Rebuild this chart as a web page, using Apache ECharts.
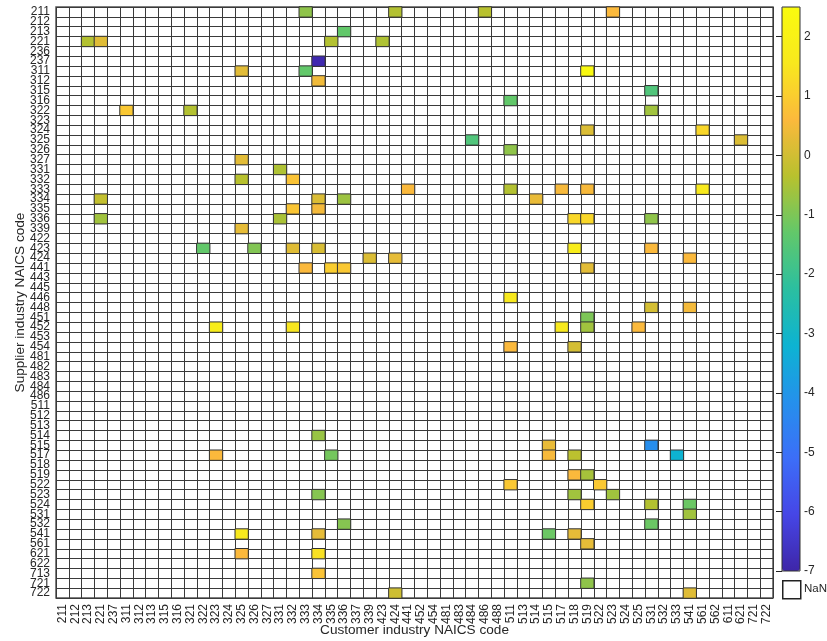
<!DOCTYPE html>
<html>
<head>
<meta charset="utf-8">
<script src="https://cdn.jsdelivr.net/npm/echarts@6/dist/echarts.min.js"></script>
<style>
html,body{margin:0;padding:0;background:#fff;}
#chart{width:827px;height:641px;}
</style>
</head>
<body>
<div id="chart"></div>
<script>
// ---- data ----
const customerCodes = ['211','212','213','221','237','311','312','313','315','316','321','322','323','324','325','326','327','331','332','333','334','335','336','337','339','423','424','441','452','454','481','483','484','486','488','511','513','514','515','517','518','519','522','523','524','525','531','532','533','541','561','562','611','621','721','722'];
const supplierCodes = ['211','212','213','221','236','237','311','312','315','316','322','323','324','325','326','327','331','332','333','334','335','336','339','422','423','424','441','443','445','446','448','451','452','453','454','481','482','483','484','486','511','512','513','514','515','517','518','519','522','523','524','531','532','541','561','621','622','713','721','722'];
// parallel arrays: supplier (row), customer (column), value
const cellSupplier = ['211','211','211','211','213','221','221','221','221','237','311','311','311','312','315','316','322','322','322','324','324','325','325','326','327','331','332','332','333','333','333','333','333','334','334','334','334','335','335','336','336','336','336','336','339','423','423','423','423','423','423','424','424','424','441','441','441','441','446','448','448','451','452','452','452','452','452','454','454','514','515','515','517','517','517','517','517','519','519','522','522','523','523','523','524','524','524','531','532','532','541','541','541','541','561','621','621','713','721','722','722'];
const cellCustomer = ['333','424','486','523','336','213','221','335','423','334','325','333','519','334','531','511','311','321','531','519','561','484','621','511','325','331','325','332','441','511','517','519','561','221','334','336','514','332','334','221','331','518','519','531','325','322','326','332','334','518','531','339','424','541','333','335','336','519','511','531','541','519','323','332','517','519','525','511','518','334','515','531','323','335','515','518','533','518','519','511','522','334','518','523','519','531','541','541','336','531','325','334','515','518','519','325','334','334','519','424','541'];
const cellValue = [-0.8,-0.4,-0.35,0.6,-1.3,-0.4,0.2,-0.4,-0.45,-6.9,0.25,-1.3,2.4,0.45,-1.6,-1.3,0.9,-0.4,-0.6,0.15,1.2,-1.6,0.15,-0.8,0.25,-0.45,-0.35,0.8,0.6,-0.4,0.55,0.55,1.6,-0.2,0.15,-0.65,0.35,0.85,0.5,-0.6,-0.5,1.2,1.2,-0.8,0.3,-1.3,-0.95,0.2,0.1,1.8,0.6,0.15,0.3,0.6,0.6,1.0,0.9,0.25,1.6,0.05,0.5,-1.0,1.8,1.5,1.6,-0.6,0.6,0.6,0.05,-0.7,0.35,-4.2,0.6,-1.1,0.55,-0.3,-3.2,0.6,-0.55,0.9,0.9,-0.9,-0.6,-0.6,1.0,-0.4,-1.2,-0.6,-0.9,-1.2,1.6,0.3,-1.2,0.3,0.3,0.6,1.4,0.8,-0.8,-0.05,0.2];
const colorMin = -7;
const colorMax = 2.5;
const parulaColors = ['#3e26a8','#4646e6','#3c6ef8','#2590ec','#0db3d2','#2bbfa0','#62c86a','#b8c12e','#fbb93c','#f8e81e','#f9fb0e'];

// ---- build ----
const heatData = cellValue.map((v, i) => [customerCodes.indexOf(cellCustomer[i]), supplierCodes.indexOf(cellSupplier[i]), v]);

const sans = "'Liberation Sans', Arial, Helvetica, sans-serif";
const txt = '#262626';
const gridLine = '#3a3a3a';

const chart = echarts.init(document.getElementById('chart'));
chart.setOption({
  animation: false,
  backgroundColor: '#fff',
  grid: [
    {left: 56, top: 7, width: 717, height: 591, show: true, borderColor: '#555', borderWidth: 1.5, backgroundColor: '#fff', outerBoundsMode: 'none', containLabel: false},
    {left: 782, top: 7, width: 18, height: 564, show: true, borderColor: '#333', borderWidth: 1, outerBoundsMode: 'none', containLabel: false, z: 10}
  ],
  xAxis: [
    {
      type: 'category', gridIndex: 0, data: customerCodes, position: 'bottom',
      name: 'Customer industry NAICS code', nameLocation: 'middle', nameGap: 25, nameMoveOverlap: false,
      nameTextStyle: {fontFamily: sans, fontSize: 13.6, color: txt},
      axisLine: {show: false}, axisTick: {show: false},
      axisLabel: {interval: 0, rotate: 90, margin: 6, fontFamily: sans, fontSize: 12, color: txt},
      splitLine: {show: true, interval: 0, lineStyle: {color: gridLine, width: 1}}
    },
    {type: 'value', gridIndex: 1, min: 0, max: 1, show: false}
  ],
  yAxis: [
    {
      type: 'category', gridIndex: 0, data: supplierCodes, inverse: true,
      name: 'Supplier industry NAICS code', nameLocation: 'middle', nameGap: 29, nameMoveOverlap: false,
      nameTextStyle: {fontFamily: sans, fontSize: 13.6, color: txt},
      axisLine: {show: false}, axisTick: {show: false},
      axisLabel: {interval: 0, margin: 6, fontFamily: sans, fontSize: 12, color: txt},
      splitLine: {show: true, interval: 0, lineStyle: {color: gridLine, width: 1}}
    },
    {
      type: 'value', gridIndex: 1, min: colorMin, max: colorMax, interval: 1, position: 'right',
      axisLine: {show: false},
      axisTick: {show: true, inside: true, length: 6, lineStyle: {color: '#222', width: 1}},
      axisLabel: {show: true, margin: 4, fontFamily: sans, fontSize: 12, color: txt, showMaxLabel: false},
      splitLine: {show: false}
    }
  ],
  visualMap: {
    type: 'continuous', min: colorMin, max: colorMax, dimension: 2, seriesIndex: 0,
    orient: 'vertical', left: 782, top: 7, itemWidth: 18, itemHeight: 564, padding: 0,
    calculable: false, realtime: false, hoverLink: false, showLabel: false, text: null,
    inRange: {color: parulaColors}
  },
  graphic: [
    {type: 'rect', left: 782, top: 580, shape: {width: 18, height: 18}, style: {fill: '#fff', stroke: '#222', lineWidth: 1.5}},
    {type: 'text', left: 804, top: 583, style: {text: 'NaN', fontFamily: sans, fontSize: 11.5, fill: txt}}
  ],
  series: [{
    type: 'heatmap', xAxisIndex: 0, yAxisIndex: 0, data: heatData,
    itemStyle: {borderColor: '#333', borderWidth: 1},
    emphasis: {disabled: true}
  }]
});
</script>
</body>
</html>
